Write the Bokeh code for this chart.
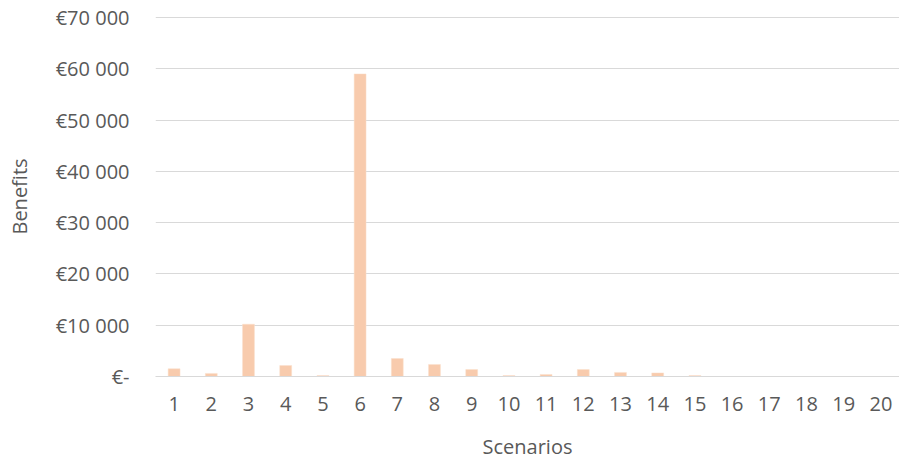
from bokeh.plotting import figure
from bokeh.models import FixedTicker, ColumnDataSource
from bokeh.embed import file_html
from bokeh.resources import INLINE

scenarios = [str(i) for i in range(1, 21)]
benefits = [1500, 600, 10200, 2150, 200, 59000, 3500, 2350, 1350, 200,
            400, 1350, 800, 700, 200, 0, 0, 0, 0, 0]
y_ticks = [0, 10000, 20000, 30000, 40000, 50000, 60000, 70000]
y_tick_labels = ["€-", "€10 000", "€20 000", "€30 000", "€40 000",
                 "€50 000", "€60 000", "€70 000"]

FONT = "Open Sans"
TXT = "#595959"

src = ColumnDataSource(data=dict(x=scenarios, y=benefits))

p = figure(x_range=scenarios, y_range=(0, 70195),
           frame_width=744, frame_height=360,
           min_border_left=155, min_border_right=0,
           min_border_top=16, min_border_bottom=86,
           output_backend="svg", toolbar_location=None)
p.vbar(x="x", top="y", width=0.32, source=src,
       fill_color="#F8CBAD", line_color="#FBE0CD", line_width=0.5)

p.outline_line_color = None
p.background_fill_color = "white"
p.border_fill_color = "white"

p.xgrid.grid_line_color = None
p.ygrid.grid_line_color = "#D9D9D9"
p.ygrid.grid_line_width = 1
p.ygrid.ticker = FixedTicker(ticks=y_ticks)

p.yaxis.ticker = FixedTicker(ticks=y_ticks)
p.yaxis.major_label_overrides = {t: l for t, l in zip(y_ticks, y_tick_labels)}
p.yaxis.axis_line_color = None
p.yaxis.major_tick_line_color = None
p.yaxis.minor_tick_line_color = None
p.yaxis.major_tick_out = 0
p.yaxis.major_label_standoff = 26
p.yaxis.axis_label = "Benefits"
p.yaxis.axis_label_standoff = 20

p.xaxis.axis_line_color = "#D9D9D9"
p.xaxis.major_tick_line_color = None
p.xaxis.minor_tick_line_color = None
p.xaxis.major_tick_out = 0
p.xaxis.major_label_standoff = 20
p.xaxis.axis_label = "Scenarios"
p.xaxis.axis_label_standoff = 19

for ax in (p.xaxis, p.yaxis):
    ax.major_label_text_font = FONT
    ax.major_label_text_font_size = "20px"
    ax.major_label_text_color = TXT
    ax.axis_label_text_font = FONT
    ax.axis_label_text_font_size = "20px"
    ax.axis_label_text_font_style = "normal"
    ax.axis_label_text_color = TXT

open("out.html", "w").write(file_html(p, INLINE))
